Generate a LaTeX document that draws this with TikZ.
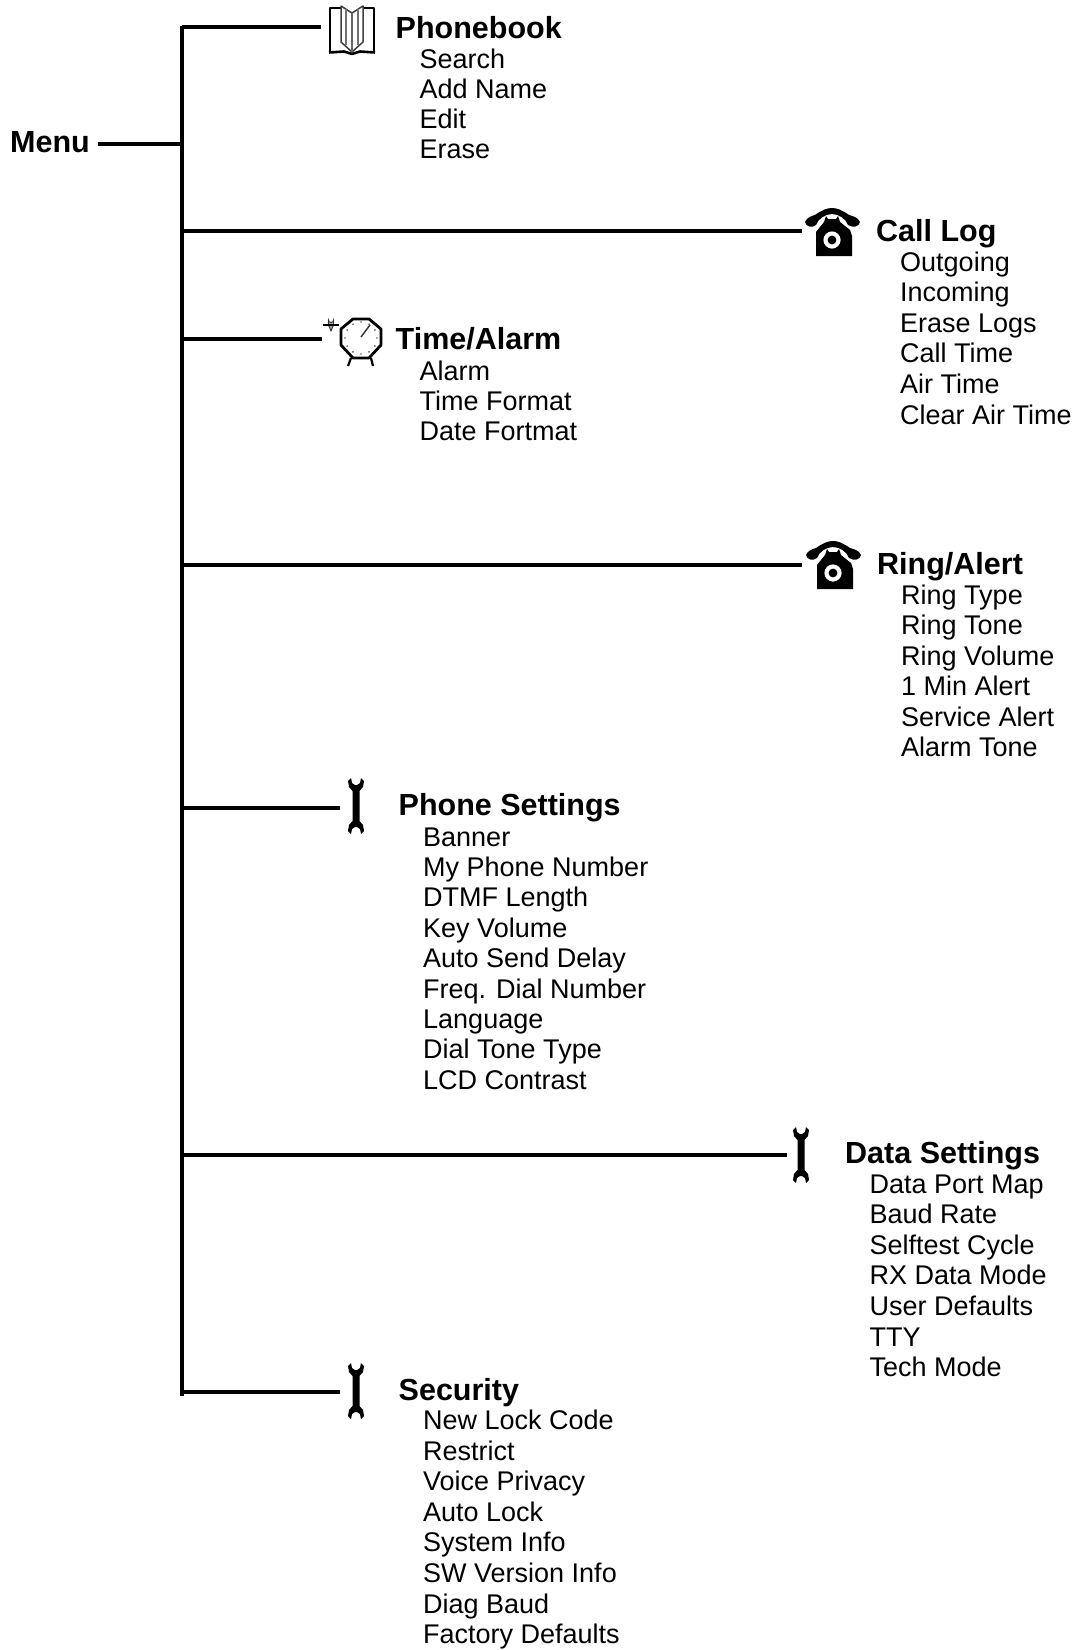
\documentclass[tikz,border=0pt]{standalone}
\usepackage{fontspec}
\setmainfont{Liberation Sans}
\tikzset{
  x=1pt,y=-1pt,
  link/.style={line width=3.5pt,black,line cap=butt},
  itemtext/.style={anchor=base west,inner sep=0pt,font=\fontsize{27}{30}\selectfont},
  headtext/.style={anchor=base west,inner sep=0pt,font=\bfseries\fontsize{30.5}{34}\selectfont},
  phoneicon/.pic={
    \fill[black] (-16,0) -- (-8,-10) -- (-6,-16) -- (-4,-13) -- (4,-13) -- (6,-16) -- (8,-10) -- (18,-2) -- (20,4) -- (20,24) -- (-16,24) -- cycle;
    \fill[black] (-27,-10) .. controls (-25,-15) and (-20,-16) .. (-17,-17) .. controls (-10,-22) and (-5,-24) .. (0,-24) .. controls (5,-24) and (10,-22) .. (17,-17) .. controls (20,-16) and (26,-15) .. (28,-10) .. controls (27,-5) and (21,-4) .. (16,-7) .. controls (14,-13) and (7,-18) .. (0,-18) .. controls (-7,-18) and (-14,-13) .. (-16,-7) .. controls (-20,-4) and (-26,-5) .. cycle;
    \fill[white] (0,8) circle (8.6);
    \fill[black] (0,8) circle (4.4);
  },
  wrenchicon/.pic={
    \fill[black] (-3.5,-15) -- (-3.5,15) -- (-7,19) -- (-8,25) -- (-5,28) -- (-4,23) -- (-1,21) -- (1,21) -- (4,23) -- (5,28) -- (8,25) -- (7,19) -- (3.5,15) -- (3.5,-15) -- (7,-19) -- (8,-25) -- (5,-28) -- (4,-23) -- (1,-21) -- (-1,-21) -- (-4,-23) -- (-5,-28) -- (-8,-25) -- (-7,-19) -- cycle;
  },
}
\newcommand{\itemlist}[5]{%
  \foreach \t [count=\i] in {#5}
    \node[itemtext] (#1-\i) at (#2,{#3+(\i-1)*#4}) {\t};
}
\begin{document}
\begin{tikzpicture}
\useasboundingbox (0,0) rectangle (1076,1650);

% spine
\coordinate (top) at (182,25.5);
\coordinate (bottom) at (182,1396);
\draw[link] (top) -- (bottom);

% menu
\node[headtext,font=\bfseries\fontsize{30.5}{34}\selectfont] (menu) at (10,152) {Menu};
\coordinate (menuend) at (98,144);
\coordinate (menujoin) at (182,144);
\draw[link] (menuend) -- (menujoin);

% connector joints and ends
\coordinate (j1) at (182,27);    \coordinate (e1) at (321,27);
\coordinate (j2) at (182,231);   \coordinate (e2) at (802,231);
\coordinate (j3) at (182,339);   \coordinate (e3) at (322,339);
\coordinate (j4) at (182,565);   \coordinate (e4) at (802,565);
\coordinate (j5) at (182,808);   \coordinate (e5) at (340,808);
\coordinate (j6) at (182,1155);  \coordinate (e6) at (787,1155);
\coordinate (j7) at (182,1392);  \coordinate (e7) at (340,1392);
\foreach \k in {1,...,7} \draw[link] (j\k) -- (e\k);

% phonebook
\begin{scope}[line join=round]
  \draw[line width=1.5pt] (341,8) -- (330,8) -- (330,51);
  \draw[line width=1.5pt] (363,8) -- (374,8) -- (374,51);
  \draw[line width=1.5pt,black!75] (341,6) -- (352,13) -- (363,6) -- (363,42) -- (352,52) -- (341,42) -- cycle;
  \draw[line width=1.2pt,black!55] (346,9) -- (346,45);
  \draw[line width=1.2pt,black!55] (358,9) -- (358,45);
  \draw[line width=1.2pt,black!60] (352,13) -- (352,52);
  \draw[line width=2.6pt] (329,52.5) -- (344,51.5) -- (352,54) -- (360,51.5) -- (375,52.5);
\end{scope}
\node[headtext] (phonebook) at (395.5,38) {Phonebook};
\itemlist{pb}{419.5}{68}{30.3}{Search,Add Name,Edit,Erase}

% call log
\pic at (832,232) {phoneicon};
\node[headtext] (calllog) at (876,241) {Call Log};
\itemlist{cl}{900}{271}{30.6}{Outgoing,Incoming,Erase Logs,Call Time,Air Time,Clear Air Time}

% time alarm
\draw[line width=2.8pt,line join=round] (353,319) -- (369,319) -- (381,329) -- (381,345) -- (369,358) -- (353,358) -- (341,345) -- (341,329) -- cycle;
\draw[line width=2.2pt] (351,358) -- (348,366);
\draw[line width=2.2pt] (371,358) -- (373,366);
\draw[line width=1.4pt,black!80] (361,337) -- (370,325);
\foreach \a in {0,30,...,330}
  \fill[black!65] (361,338) ++(\a:16) circle (0.9);
\filldraw[draw=black!80,fill=black!35,line width=0.9pt] (328.5,325) -- (328.5,320) arc[start angle=180,end angle=0,radius=2.5] -- (333.5,325) -- (331,331) -- cycle;
\draw[line width=1.1pt,black] (323,325) -- (339,325);
\node[headtext] (timealarm) at (395.5,349) {Time/Alarm};
\itemlist{ta}{419.5}{380}{30}{Alarm,Time Format,Date Fortmat}

% ring alert
\pic at (833,565) {phoneicon};
\node[headtext] (ringalert) at (877,574) {Ring/Alert};
\itemlist{ra}{901}{604.5}{30.4}{Ring Type,Ring Tone,Ring Volume,1 Min Alert,Service Alert,Alarm Tone}

% phone settings
\pic at (356,806) {wrenchicon};
\node[headtext] (phonesettings) at (398.5,815) {Phone Settings};
\itemlist{ps}{423}{846}{30.4}{Banner,My Phone Number,DTMF Length,Key Volume,Auto Send Delay,Freq. Dial Number,Language,Dial Tone Type,LCD Contrast}

% data settings
\pic at (801,1155) {wrenchicon};
\node[headtext] (datasettings) at (845,1163) {Data Settings};
\itemlist{ds}{869.5}{1193.3}{30.55}{Data Port Map,Baud Rate,Selftest Cycle,RX Data Mode,User Defaults,TTY,Tech Mode}

% security
\pic at (356,1391) {wrenchicon};
\node[headtext] (security) at (398.5,1400) {Security};
\itemlist{se}{423}{1429.5}{30.6}{New Lock Code,Restrict,Voice Privacy,Auto Lock,System Info,SW Version Info,Diag Baud,Factory Defaults}
\end{tikzpicture}
\end{document}
